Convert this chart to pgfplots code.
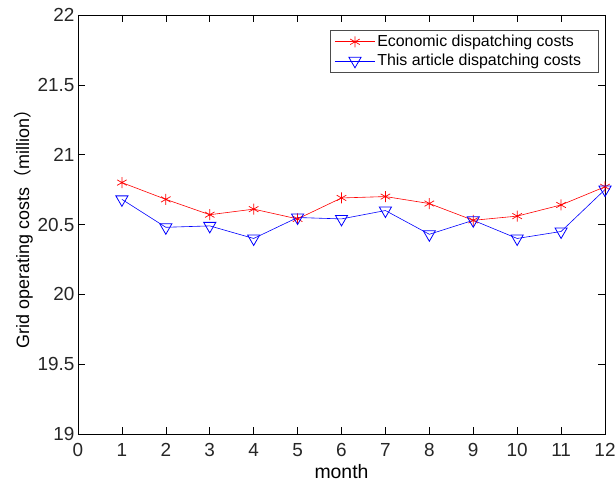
\documentclass[border=0pt]{standalone}
\usepackage{fontspec}
\setmainfont{Liberation Sans}
\newfontfamily\cjk{Noto Sans CJK SC}
\usepackage{pgfplots}
\pgfplotsset{compat=1.18}
\usetikzlibrary{calc}
\begin{document}
\begin{tikzpicture}
\begin{axis}[
  name=ax,
  scale only axis,
  width=527bp, height=419bp,
  xmin=0, xmax=12, ymin=19, ymax=22,
  xtick={0,1,...,12},
  ytick={19,19.5,...,22},
  yticklabel style={/pgf/number format/fixed, /pgf/number format/precision=1},
  /pgf/number format/assume math mode=true,
  tick align=inside,
  major tick length=7bp,
  axis line style={line width=0.8pt},
  every tick/.style={black, line width=0.6pt},
  tick label style={font=\fontsize{19}{22}\selectfont, color=black!85},
  xticklabel style={yshift=-6bp},
  xlabel={month},
  ylabel={Grid operating costs{\cjk （}million{\cjk ）}},
  xlabel style={font=\fontsize{19.5}{22}\selectfont, yshift=-1bp},
  ylabel style={font=\fontsize{18}{21}\selectfont, yshift=-2bp},
  legend style={at={(0.987,0.964)}, anchor=north east, font=\fontsize{16}{19}\selectfont,
    draw=black!70, row sep=2bp, inner xsep=4bp, inner ysep=3bp},
  legend cell align=left,
  legend image code/.code={\draw[mark repeat=2,mark phase=2]
    plot coordinates {(0bp,0bp) (20bp,0bp) (40bp,0bp)};},
]
\addplot[red, line width=0.6pt, mark=asterisk, mark size=5.5bp, mark options={line width=0.7pt}]
  coordinates {(1,20.80) (2,20.68) (3,20.57) (4,20.61) (5,20.54) (6,20.69)
               (7,20.70) (8,20.65) (9,20.53) (10,20.56) (11,20.64) (12,20.77)};
\addlegendentry{Economic dispatching costs\hspace*{18bp}}
\addplot[blue, line width=0.6pt, mark=triangle, mark size=7bp, mark options={rotate=180, line width=0.8pt}]
  coordinates {(1,20.68) (2,20.48) (3,20.49) (4,20.40) (5,20.55) (6,20.54)
               (7,20.60) (8,20.43) (9,20.53) (10,20.40) (11,20.45) (12,20.75)};
\addlegendentry{This article dispatching costs}
\end{axis}
\pgfresetboundingbox
\useasboundingbox ($(ax.south west)+(-78bp,-51bp)$) rectangle ($(ax.north east)+(10bp,15bp)$);
\end{tikzpicture}
\end{document}
